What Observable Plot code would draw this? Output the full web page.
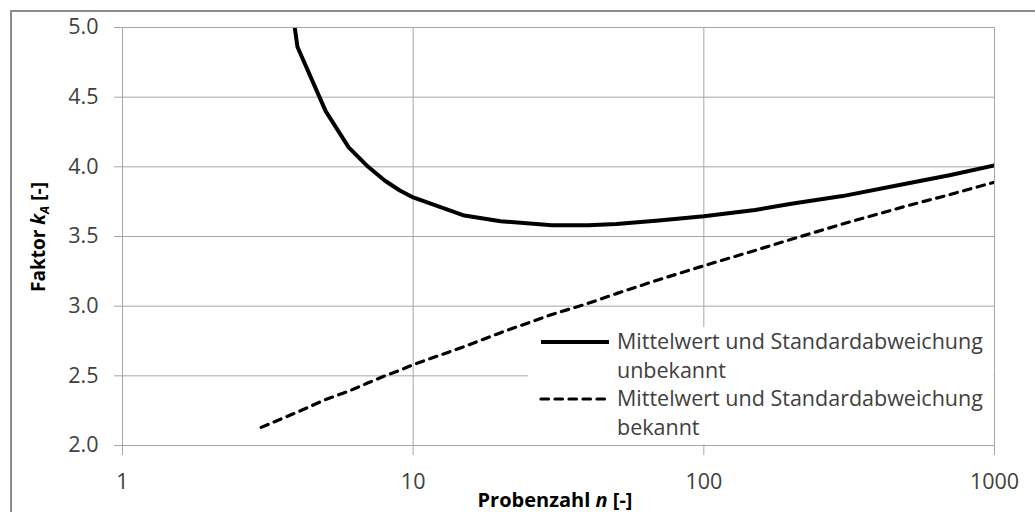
<!DOCTYPE html>
<html><head><meta charset="utf-8">
<script src="https://cdn.jsdelivr.net/npm/d3@7"></script>
<script src="https://cdn.jsdelivr.net/npm/@observablehq/plot@0.6"></script>
<style>
body{margin:0;background:#fff;overflow:hidden}
#wrap{position:relative;width:1035px;height:512px;overflow:hidden}
#frame{position:absolute;left:10px;top:10px;width:1100px;height:600px;border:2px solid #8c8c8c;box-sizing:border-box;pointer-events:none}
</style></head><body><div id="wrap"><div id="chart"></div><div id="frame"></div></div>
<script>
// Series: Mittelwert und Standardabweichung unbekannt (solid)
const nUnknown = [3, 4, 5, 6, 7, 8, 9, 10, 15, 20, 30, 40, 50, 70, 100, 150, 200, 300, 500, 700, 1000];
const kUnknown = [6.7, 4.86, 4.40, 4.14, 4.00, 3.90, 3.83, 3.78, 3.65, 3.61, 3.58, 3.58, 3.59, 3.615, 3.645, 3.69, 3.735, 3.79, 3.88, 3.94, 4.01];
// Series: Mittelwert und Standardabweichung bekannt (dashed)
const nKnown = [3, 4, 5, 6, 7, 8, 9, 10, 15, 20, 30, 40, 50, 70, 100, 150, 200, 300, 500, 700, 1000];
const kKnown = [2.13, 2.24, 2.33, 2.39, 2.45, 2.50, 2.54, 2.58, 2.71, 2.81, 2.94, 3.02, 3.09, 3.19, 3.29, 3.40, 3.48, 3.59, 3.72, 3.80, 3.89];

const seriesLabels = [
  ["Mittelwert und Standardabweichung", "unbekannt"],
  ["Mittelwert und Standardabweichung", "bekannt"]
];
const xTicks = [1, 10, 100, 1000];
const yTicks = [2.0, 2.5, 3.0, 3.5, 4.0, 4.5, 5.0];
const xTitleParts = ["Probenzahl ", "n", " [-]"];
const yTitleParts = ["Faktor ", "k", "A", " [-]"];

const unknown = nUnknown.map((n, i) => ({n, k: kUnknown[i]}));
const known = nKnown.map((n, i) => ({n, k: kKnown[i]}));

const gridColor = "#a6a6a6";
const textColor = "#404040";
const font = "'Open Sans', sans-serif";

const chart = Plot.plot({
  width: 1035, height: 512,
  marginLeft: 122, marginRight: 41, marginTop: 27, marginBottom: 67,
  style: {fontFamily: font, fontSize: "21px", background: "transparent", overflow: "visible"},
  x: {type: "log", domain: [1, 1000]},
  y: {domain: [2, 5]},
  marks: [
    Plot.gridX(xTicks, {stroke: gridColor, strokeOpacity: 1}),
    Plot.gridY(yTicks, {stroke: gridColor, strokeOpacity: 1}),
    Plot.axisY(yTicks, {tickSize: 8, tickPadding: 16, tickFormat: d3.format(".1f"), stroke: gridColor, fill: textColor, label: null, fontSize: 21.5}),
    Plot.axisX(xTicks, {tickSize: 10, tickPadding: 18, tickFormat: d => String(d), stroke: gridColor, fill: textColor, label: null, fontSize: 21.5}),
    Plot.line(unknown, {x: "n", y: "k", stroke: "#000", strokeWidth: 4, strokeLinejoin: "round", clip: true}),
    Plot.line(known, {x: "n", y: "k", stroke: "#000", strokeWidth: 3.2, strokeDasharray: "7.5,6.5", strokeLinecap: "round", clip: true}),
    Plot.frame({stroke: gridColor})
  ]
});
document.getElementById("chart").appendChild(chart);

const svg = d3.select(chart);
// Legend
const lg = svg.append("g").attr("font-family", font).attr("font-size", 21.5).attr("fill", textColor).attr("text-anchor", "start");
lg.append("rect").attr("x", 528).attr("y", 327).attr("width", 465.5).attr("height", 117.5).attr("fill", "#fff");
const rows = [{y: 342, dash: null, w: 4}, {y: 399, dash: "7.5,6.5", w: 3.2}];
rows.forEach((r, i) => {
  const l = lg.append("line").attr("x1", 541).attr("x2", 609).attr("y1", r.y).attr("y2", r.y)
    .attr("stroke", "#000").attr("stroke-width", r.w);
  if (r.dash) l.attr("stroke-dasharray", r.dash).attr("stroke-linecap", "round");
  seriesLabels[i].forEach((t, j) => {
    lg.append("text").attr("x", 617).attr("y", r.y + 7 + j * 29).attr("text-anchor", "start").text(t);
  });
});

// Axis titles
const xt = svg.append("text").attr("x", 555).attr("y", 507).attr("text-anchor", "middle")
  .attr("font-family", font).attr("font-size", 20).attr("font-weight", "bold").attr("fill", "#000");
xt.append("tspan").text(xTitleParts[0]);
xt.append("tspan").attr("font-style", "italic").text(xTitleParts[1]);
xt.append("tspan").text(xTitleParts[2]);

const yt = svg.append("text").attr("transform", "translate(45,237) rotate(-90)").attr("text-anchor", "middle")
  .attr("font-family", font).attr("font-size", 19).attr("font-weight", "bold").attr("fill", "#000");
yt.append("tspan").text(yTitleParts[0]);
yt.append("tspan").attr("font-style", "italic").text(yTitleParts[1]);
yt.append("tspan").attr("font-style", "italic").attr("font-size", 13).attr("dy", 4).text(yTitleParts[2]);
yt.append("tspan").attr("dy", -4).text(yTitleParts[3]);
</script></body></html>
